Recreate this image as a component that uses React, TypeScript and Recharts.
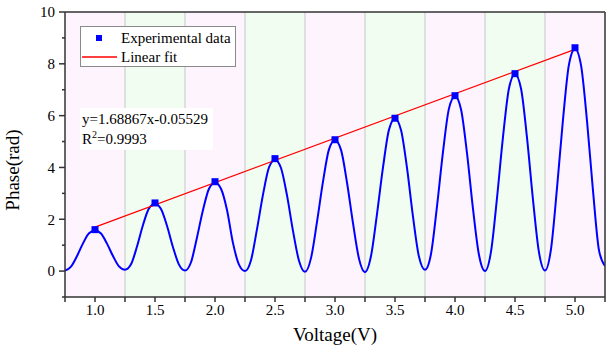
import {
  ComposedChart, Line, Scatter, XAxis, YAxis, ReferenceArea, ReferenceLine, Legend,
} from 'recharts'

// raw trace, every 0.05 V
const VOLTAGE = [
  0.75, 0.8, 0.85, 0.9, 0.95, 1.0, 1.05, 1.1, 1.15, 1.2,
  1.25, 1.3, 1.35, 1.4, 1.45, 1.5, 1.55, 1.6, 1.65, 1.7,
  1.75, 1.8, 1.85, 1.9, 1.95, 2.0, 2.05, 2.1, 2.15, 2.2,
  2.25, 2.3, 2.35, 2.4, 2.45, 2.5, 2.55, 2.6, 2.65, 2.7,
  2.75, 2.8, 2.85, 2.9, 2.95, 3.0, 3.05, 3.1, 3.15, 3.2,
  3.25, 3.3, 3.35, 3.4, 3.45, 3.5, 3.55, 3.6, 3.65, 3.7,
  3.75, 3.8, 3.85, 3.9, 3.95, 4.0, 4.05, 4.1, 4.15, 4.2,
  4.25, 4.3, 4.35, 4.4, 4.45, 4.5, 4.55, 4.6, 4.65, 4.7,
  4.75, 4.8, 4.85, 4.9, 4.95, 5.0, 5.05, 5.1, 5.15, 5.2,
  5.25,
]
const PHASE = [
  0.02, 0.17, 0.58, 1.07, 1.46, 1.57, 1.45, 1.06, 0.58, 0.18,
  0.05, 0.26, 0.95, 1.78, 2.42, 2.6, 2.4, 1.75, 0.92, 0.25,
  0.02, 0.34, 1.3, 2.36, 3.18, 3.42, 3.18, 2.36, 1.08, 0.25,
  0.0, 0.42, 1.62, 2.95, 4.0, 4.3, 3.98, 2.92, 1.55, 0.4,
  -0.03, 0.5, 1.9, 3.45, 4.7, 5.05, 4.68, 3.42, 1.85, 0.48,
  -0.04, 0.58, 2.2, 4.0, 5.46, 5.88, 5.45, 3.98, 2.1, 0.55,
  0.05, 0.66, 2.5, 4.6, 6.28, 6.75, 6.25, 4.55, 2.4, 0.62,
  0.0, 0.75, 2.82, 5.18, 7.06, 7.6, 7.05, 5.15, 2.75, 0.72,
  0.02, 0.85, 3.2, 5.85, 7.98, 8.58, 7.95, 5.8, 3.1, 0.8,
  0.2,
]

const EXP_V = [1.0, 1.5, 2.0, 2.5, 3.0, 3.5, 4.0, 4.5, 5.0]
const EXP_PHASE = [1.6, 2.63, 3.45, 4.34, 5.07, 5.9, 6.77, 7.62, 8.62]

const FIT_V = [1.0, 5.0]
const FIT_PHASE = [1.7, 8.56]

const BAND_EDGES = [0.75, 1.25, 1.75, 2.25, 2.75, 3.25, 3.75, 4.25, 4.75, 5.25]
const BAND_COLORS = ['#fdf4fd', '#f2fdf2']

const X_TICKS = [0.75, 1.0, 1.25, 1.5, 1.75, 2.0, 2.25, 2.5, 2.75, 3.0, 3.25, 3.5, 3.75, 4.0, 4.25, 4.5, 4.75, 5.0, 5.25]
const Y_TICKS = [-1, 0, 1, 2, 3, 4, 5, 6, 7, 8, 9, 10]

const trace = VOLTAGE.map((v, i) => ({ v, phase: PHASE[i] }))
const points = EXP_V.map((v, i) => ({ v, phase: EXP_PHASE[i] }))
const fit = FIT_V.map((v, i) => ({ v, phase: FIT_PHASE[i] }))

const FONT = '"Liberation Serif", "Times New Roman", serif'
const AXIS = '#333'
const serif = { fontFamily: FONT }

function YTick({ x, y, payload }: any) {
  const axisX = x + 10
  const major = payload.value >= 0 && payload.value % 2 === 0
  return (
    <g>
      <line x1={axisX} x2={axisX - (major ? 6 : 3)} y1={y} y2={y} stroke={AXIS} strokeWidth={1.5} />
      {major && (
        <text x={x} y={y} dy="0.35em" textAnchor="end" fontSize={15} style={serif} fill="#000">
          {payload.value}
        </text>
      )}
    </g>
  )
}

function XTick({ x, y, payload }: any) {
  // only every other tick carries a label
  if (Math.round(payload.value * 4) % 2 !== 0) return <g />
  return (
    <text x={x} y={y} dy="0.71em" textAnchor="middle" fontSize={15} style={serif} fill="#000">
      {payload.value.toFixed(1)}
    </text>
  )
}

function Square({ cx, cy }: any) {
  return <rect x={cx - 3.5} y={cy - 3.5} width={7} height={7} fill="#0000ff" />
}

function LegendBox() {
  return (
    <div style={{ border: '1px solid #8a8a8a', background: '#fff', width: 154, height: 39, fontFamily: FONT, fontSize: 15, color: '#000' }}>
      <div style={{ display: 'flex', alignItems: 'center', height: 20, marginTop: 1 }}>
        <svg width={40} height={20}><rect x={15} y={7} width={6} height={6} fill="#0000ff" /></svg>
        <span>Experimental data</span>
      </div>
      <div style={{ display: 'flex', alignItems: 'center', height: 18 }}>
        <svg width={40} height={18}><line x1={1} x2={36} y1={9} y2={9} stroke="#ff0000" strokeWidth={1.3} /></svg>
        <span>Linear fit</span>
      </div>
    </div>
  )
}

function YTitle() {
  return (
    <text x={19} y={170} transform="rotate(-90, 19, 170)" textAnchor="middle" fontSize={19} style={serif} fill="#000">
      Phase(rad)
    </text>
  )
}

function XTitle({ viewBox }: any) {
  const { x, width } = viewBox
  return (
    <text x={x + width / 2} y={341} textAnchor="middle" fontSize={19} style={serif} fill="#000">
      Voltage(V)
    </text>
  )
}

export default function App() {
  return (
    <div style={{ position: 'relative', width: 607, height: 349, fontFamily: FONT }}>
      <style>{'body{margin:0}'}</style>
      <ComposedChart width={607} height={349} margin={{ top: 12, right: 2, left: 0, bottom: 0 }} style={serif}>
        <XAxis
          dataKey="v" type="number" domain={[0.75, 5.25]} ticks={X_TICKS} allowDataOverflow
          interval={0} tickSize={5} tickMargin={2} height={52}
          stroke={AXIS} strokeWidth={1.5}
          tick={<XTick />}
          label={<XTitle />}
        />
        <XAxis
          xAxisId="top" orientation="top" mirror type="number" domain={[0.75, 5.25]} ticks={X_TICKS}
          interval={0} allowDataOverflow tick={false} tickSize={3} height={1} stroke={AXIS} strokeWidth={1.5}
        />
        <YAxis
          type="number" domain={[-1, 10]} ticks={Y_TICKS} allowDataOverflow width={65} interval={0}
          tickLine={false} tickSize={6} tickMargin={4} tick={<YTick />}
          stroke={AXIS} strokeWidth={1.5} label={<YTitle />}
        />
        <YAxis
          yAxisId="right" orientation="right" mirror type="number" domain={[-1, 10]} ticks={Y_TICKS}
          interval={0} allowDataOverflow tick={false} tickSize={3} width={1} stroke={AXIS} strokeWidth={1.5}
        />
        {BAND_EDGES.slice(0, -1).map((x1, i) => (
          <ReferenceArea
            key={x1} x1={x1} x2={BAND_EDGES[i + 1]} y1={-1} y2={10}
            fill={BAND_COLORS[i % 2]} fillOpacity={1} stroke="none" ifOverflow="hidden"
          />
        ))}
        {BAND_EDGES.slice(1, -1).map((x) => (
          <ReferenceLine key={x} x={x} stroke="#cfcfcf" strokeWidth={1.2} />
        ))}
        <Line
          data={trace} dataKey="phase" type="monotone" stroke="#0000ff" strokeWidth={2}
          dot={false} isAnimationActive={false} legendType="none"
        />
        <Line
          data={fit} dataKey="phase" type="linear" stroke="#ff0000" strokeWidth={1.3}
          dot={false} isAnimationActive={false}
        />
        <Scatter data={points} dataKey="phase" shape={<Square />} isAnimationActive={false} />
        <Legend
          layout="vertical" align="center" verticalAlign="middle"
          wrapperStyle={{ top: 26, left: 80, width: 'auto' }}
          content={() => <LegendBox />}
        />
      </ComposedChart>
      <div
        style={{
          position: 'absolute', left: 80, top: 108, width: 133, height: 42, background: '#fff',
          fontFamily: FONT, fontSize: 15, color: '#000', lineHeight: '20px', paddingLeft: 2, boxSizing: 'border-box',
        }}
      >
        <div style={{ marginTop: 1 }}>y=1.68867x-0.05529</div>
        <div>R<sup style={{ fontSize: 10, lineHeight: 0 }}>2</sup>=0.9993</div>
      </div>
    </div>
  )
}
